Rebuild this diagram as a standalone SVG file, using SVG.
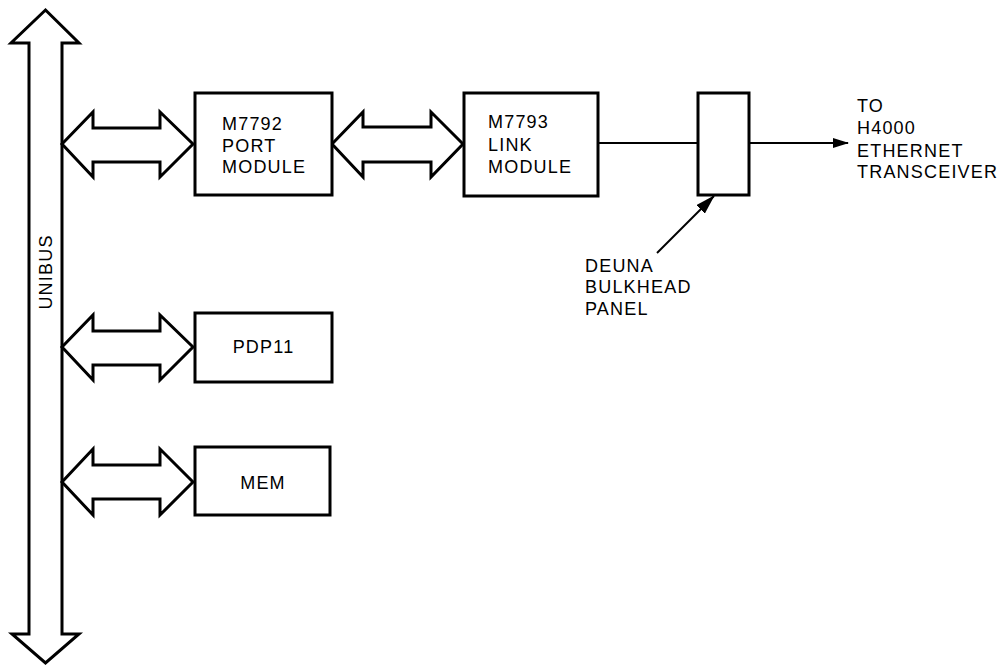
<svg xmlns="http://www.w3.org/2000/svg" width="1003" height="666" viewBox="0 0 1003 666">
<style>
.shape{fill:#fff;stroke:#000;stroke-width:3;stroke-linejoin:miter}
.box{fill:#fff;stroke:#000;stroke-width:3}
.line{fill:none;stroke:#000;stroke-width:2}
text{font-family:"Liberation Sans",Arial,sans-serif;font-size:18px;letter-spacing:1.2px;fill:#000}
</style>
<defs>
<marker id="ah" markerWidth="16" markerHeight="10" refX="15" refY="5" orient="auto" markerUnits="userSpaceOnUse">
<path d="M0,0 L16,5 L0,10 Z" fill="#000"/>
</marker>
<marker id="ah2" markerWidth="20" markerHeight="12" refX="19" refY="6" orient="auto" markerUnits="userSpaceOnUse">
<path d="M0,0 L20,6 L0,12 Z" fill="#000"/>
</marker>
</defs>
<rect width="1003" height="666" fill="#fff"/>
<g id="unibus">
<polygon class="shape" points="45.5,10 79,43 62,43 62,634 79,634 45.5,663 12,634 29,634 29,43 11,43"/>
<text transform="translate(52,272) rotate(-90)" text-anchor="middle">UNIBUS</text>
</g>
<g id="connectors">
<polygon class="shape" points="62,144 93,112 93,128 160,128 160,112 193,144 160,177 160,162 93,162 93,177"/>
<polygon class="shape" points="332,144 363,112 363,127 431,127 431,112 463,144 431,177 431,162 363,162 363,177"/>
<polygon class="shape" points="62,347 93,315 93,331 160,331 160,315 193,347 160,380 160,365 93,365 93,380"/>
<polygon class="shape" points="62,482 93,449 93,465 160,465 160,449 193,482 160,515 160,499 93,499 93,515"/>
<line class="line" x1="598" y1="143" x2="698" y2="143"/>
<line class="line" x1="749" y1="143" x2="848" y2="143" marker-end="url(#ah)"/>
<line class="line" x1="657" y1="253" x2="714" y2="196" marker-end="url(#ah2)"/>
</g>
<g id="port">
<rect class="box" x="195" y="93" width="137" height="102"/>
<text x="222" y="130">M7792</text>
<text x="222" y="152">PORT</text>
<text x="222" y="173">MODULE</text>
</g>
<g id="link">
<rect class="box" x="464" y="93" width="134" height="103"/>
<text x="488" y="128">M7793</text>
<text x="488" y="151">LINK</text>
<text x="488" y="173">MODULE</text>
</g>
<g id="bulkhead">
<rect class="box" x="698" y="93" width="51" height="102"/>
</g>
<g id="bulkhead-label">
<text x="585" y="272">DEUNA</text>
<text x="585" y="293">BULKHEAD</text>
<text x="585" y="315">PANEL</text>
</g>
<g id="transceiver-label">
<text x="857" y="112">TO</text>
<text x="857" y="134">H4000</text>
<text x="857" y="157">ETHERNET</text>
<text x="857" y="178">TRANSCEIVER</text>
</g>
<g id="pdp11">
<rect class="box" x="195" y="313" width="137" height="69"/>
<text x="263.5" y="353" text-anchor="middle">PDP11</text>
</g>
<g id="mem">
<rect class="box" x="195" y="447" width="135" height="68"/>
<text x="263" y="489" text-anchor="middle">MEM</text>
</g>
</svg>
